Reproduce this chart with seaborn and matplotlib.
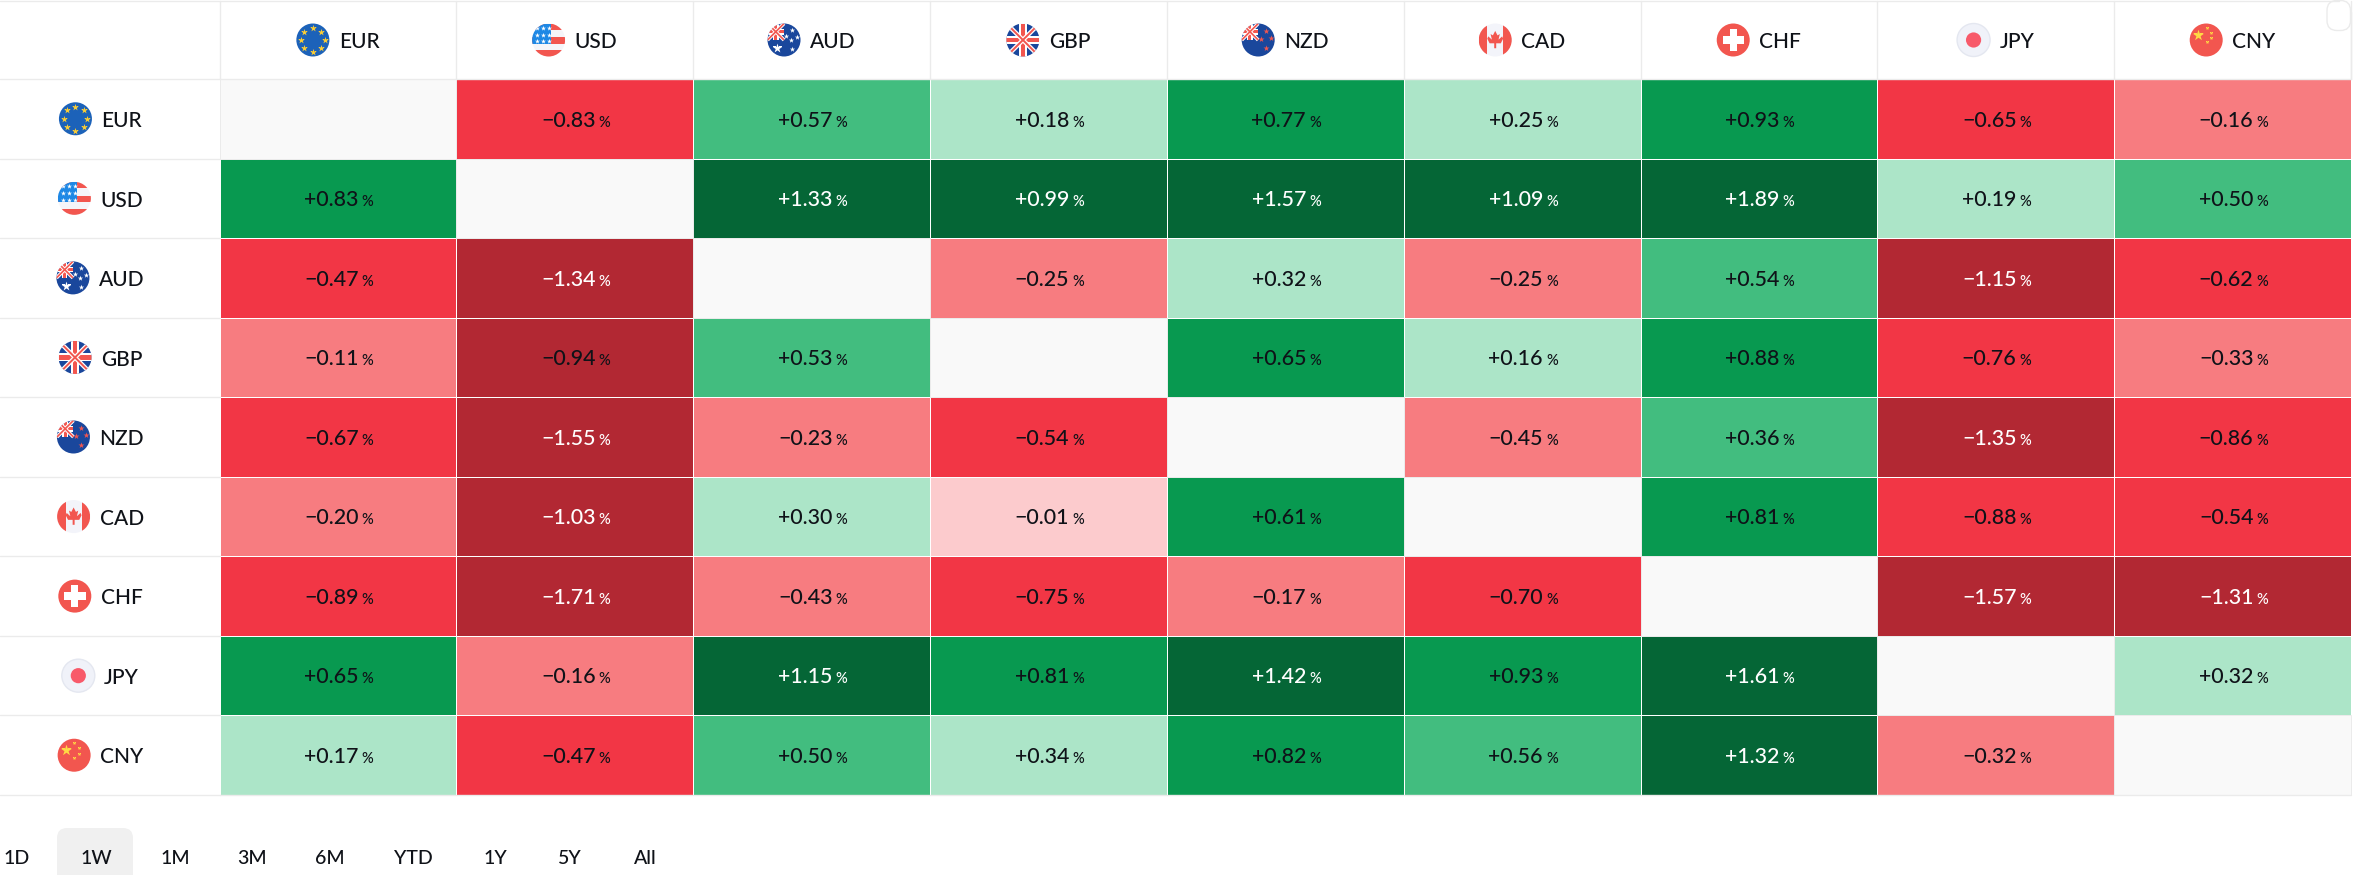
import numpy as np
import pandas as pd
import seaborn as sns
import matplotlib.pyplot as plt
from matplotlib.colors import ListedColormap, BoundaryNorm
from matplotlib.patches import Circle, Rectangle, FancyBboxPatch, Polygon

# Data
currencies = ["EUR", "USD", "AUD", "GBP", "NZD", "CAD", "CHF", "JPY", "CNY"]
eur = [np.nan, -0.83, 0.57, 0.18, 0.77, 0.25, 0.93, -0.65, -0.16]
usd = [0.83, np.nan, 1.33, 0.99, 1.57, 1.09, 1.89, 0.19, 0.50]
aud = [-0.47, -1.34, np.nan, -0.25, 0.32, -0.25, 0.54, -1.15, -0.62]
gbp = [-0.11, -0.94, 0.53, np.nan, 0.65, 0.16, 0.88, -0.76, -0.33]
nzd = [-0.67, -1.55, -0.23, -0.54, np.nan, -0.45, 0.36, -1.35, -0.86]
cad = [-0.20, -1.03, 0.30, -0.01, 0.61, np.nan, 0.81, -0.88, -0.54]
chf = [-0.89, -1.71, -0.43, -0.75, -0.17, -0.70, np.nan, -1.57, -1.31]
jpy = [0.65, -0.16, 1.15, 0.81, 1.42, 0.93, 1.61, np.nan, 0.32]
cny = [0.17, -0.47, 0.50, 0.34, 0.82, 0.56, 1.32, -0.32, np.nan]
periods = ["1D", "1W", "1M", "3M", "6M", "YTD", "1Y", "5Y", "All"]

# Colour bins
bounds = [-2.5, -0.92, -0.46, -0.05, 0, 0.35, 0.59, 0.96, 2.5]
colors = ["#B22833", "#F23645", "#F77C80", "#FCCBCD", "#ACE5C8", "#42BD7F", "#089950", "#056636"]

W, H = 2361, 875
X0, X1, Y0, Y1 = 219.5, 2351, 79, 795
LINE = "#EBEBEB"
RED = "#F2564F"
NAVY = "#1A479C"
INK = "#0F1218"

sns.set_theme(style="white")
plt.rcParams["font.family"] = ["Lato", "DejaVu Sans"]

df = pd.DataFrame([eur, usd, aud, gbp, nzd, cad, chf, jpy, cny], index=currencies, columns=currencies)

fig = plt.figure(figsize=(W / 100, H / 100), dpi=100, facecolor="white")
ax = fig.add_axes([X0 / W, 1 - Y1 / H, (X1 - X0) / W, (Y1 - Y0) / H])
ax.set_facecolor("#F9F9F9")
sns.heatmap(df, mask=df.isna(), cmap=ListedColormap(colors), norm=BoundaryNorm(bounds, len(colors)),
            cbar=False, linewidths=0.55, linecolor="white", xticklabels=False, yticklabels=False, ax=ax)
ax.set_xlabel("")
ax.set_ylabel("")

# Number + small percent sign in each cell
for i, row in enumerate(currencies):
    for j, col in enumerate(currencies):
        v = df.loc[row, col]
        if np.isnan(v):
            continue
        c = "white" if abs(v) > 0.96 else INK
        label = ("+" if v > 0 else "\u2212") + f"{abs(v):.2f}"
        ax.annotate(label, (j + 0.5, i + 0.5), xytext=(15, -5.6), textcoords="offset points",
                    ha="right", va="baseline", fontsize=15.4, fontweight="medium", color=c)
        ax.annotate("%", (j + 0.5, i + 0.5), xytext=(17.2, -5.6), textcoords="offset points",
                    ha="left", va="baseline", fontsize=10.5, fontweight="medium", color=c)

# Overlay in pixels for table frame, flags and period buttons
ov = fig.add_axes([0, 0, 1, 1], facecolor="none")
ov.set_xlim(0, W)
ov.set_ylim(H, 0)
ov.axis("off")


def clipped(artist, clip):
    ov.add_artist(artist)
    artist.set_clip_path(clip)
    return artist


def union_jack(clip, x0, y0, x1, y1, big):
    # diagonals first, the cross on top
    white_lw, red_lw, t, t2 = (3.2, 1.4, 0.12, 0.065) if big else (2.6, 1.2, 0.17, 0.09)
    for a, b, lw, col in [((x0, y0), (x1, y1), white_lw, "white"), ((x0, y1), (x1, y0), white_lw, "white"),
                          ((x0, y0), (x1, y1), red_lw, RED), ((x0, y1), (x1, y0), red_lw, RED)]:
        ln, = ov.plot([a[0], b[0]], [a[1], b[1]], color=col, lw=lw, solid_capstyle="butt")
        ln.set_clip_path(clip)
    mx, my = (x0 + x1) / 2, (y0 + y1) / 2
    h = y1 - y0
    for half, col in [(t * h, "white"), (t2 * h, RED)]:
        clipped(Rectangle((x0, my - half), x1 - x0, 2 * half, facecolor=col, edgecolor="none"), clip)
        clipped(Rectangle((mx - half, y0), 2 * half, h, facecolor=col, edgecolor="none"), clip)


def stars(xs, ys, size, col, clip, marker="*"):
    s = ov.scatter(xs, ys, s=size, c=col, marker=marker, linewidths=0, zorder=5)
    s.set_clip_path(clip)


def draw_flag(code, cx, cy, r=16.5):
    base = {"EUR": "#1C62B9", "USD": "#F5F5F9", "AUD": NAVY, "GBP": "#F5F5F9", "NZD": NAVY,
            "CAD": "#F3F4FA", "CHF": RED, "JPY": "#F0F2F9", "CNY": RED}[code]
    disc = Circle((cx, cy), r, facecolor=base, edgecolor="none")
    ov.add_patch(disc)
    if code == "EUR":
        ang = np.linspace(0, 2 * np.pi, 8, endpoint=False) + np.pi / 2
        stars(cx + 0.72 * r * np.cos(ang), cy + 0.72 * r * np.sin(ang), 26, "#FFCF33", disc)
    elif code == "USD":
        for top, bot in [(-1, -0.62), (-0.16, 0.25), (0.62, 1)]:
            clipped(Rectangle((cx - r, cy + top * r), 2 * r, (bot - top) * r, facecolor=RED, edgecolor="none"), disc)
        clipped(Rectangle((cx - r, cy - r), 1.15 * r, 1.25 * r, facecolor="#1E88E5", edgecolor="none"), disc)
        xs, ys = np.meshgrid(cx + np.array([-0.68, -0.32, 0.02]) * r, cy + np.array([-0.72, -0.32, 0.08]) * r)
        stars(xs.ravel(), ys.ravel(), 14, "white", disc)
    elif code in ("AUD", "NZD"):
        union_jack(disc, cx - r, cy - r, cx, cy, False)
        if code == "AUD":
            stars(cx + np.array([0.5, 0.12, 0.42, 0.78, 0.5]) * r, cy + np.array([-0.62, -0.22, -0.02, -0.2, 0.55]) * r,
                  16, "white", disc)
            stars([cx - 0.42 * r], [cy + 0.5 * r], 50, "white", disc)
        else:
            stars(cx + np.array([0.45, 0.15, 0.78, 0.45]) * r, cy + np.array([-0.55, -0.05, -0.1, 0.48]) * r,
                  20, RED, disc)
    elif code == "GBP":
        clipped(Rectangle((cx - r, cy - r), 2 * r, 2 * r, facecolor=NAVY, edgecolor="none"), disc)
        union_jack(disc, cx - r, cy - r, cx + r, cy + r, True)
    elif code == "CAD":
        clipped(Rectangle((cx - r, cy - r), 0.52 * r, 2 * r, facecolor=RED, edgecolor="none"), disc)
        clipped(Rectangle((cx + 0.48 * r, cy - r), 0.52 * r, 2 * r, facecolor=RED, edgecolor="none"), disc)
        leaf = np.array([(0, -0.55), (0.14, -0.28), (0.28, -0.36), (0.2, -0.02), (0.42, -0.22), (0.48, -0.08),
                         (0.34, 0.2), (0.06, 0.2), (0.06, 0.5), (-0.06, 0.5), (-0.06, 0.2), (-0.34, 0.2),
                         (-0.48, -0.08), (-0.42, -0.22), (-0.2, -0.02), (-0.28, -0.36), (-0.14, -0.28)])
        ov.add_patch(Polygon(np.c_[cx + leaf[:, 0] * r, cy + leaf[:, 1] * r], facecolor=RED, edgecolor="none"))
    elif code == "CHF":
        ov.add_patch(Rectangle((cx - 0.65 * r, cy - 0.22 * r), 1.3 * r, 0.44 * r, facecolor="white", edgecolor="none"))
        ov.add_patch(Rectangle((cx - 0.22 * r, cy - 0.65 * r), 0.44 * r, 1.3 * r, facecolor="white", edgecolor="none"))
    elif code == "JPY":
        disc.set_edgecolor("#E4E7F0")
        ov.add_patch(Circle((cx, cy), 0.46 * r, facecolor="#F85A6A", edgecolor="none"))
    elif code == "CNY":
        stars([cx - 0.48 * r], [cy - 0.32 * r], 70, "#FFDA44", disc)
        stars(cx + np.array([0.02, 0.28, 0.28, 0.02]) * r, cy + np.array([-0.72, -0.42, -0.1, 0.15]) * r, 7, "#FFDA44", disc)


renderer = fig.canvas.get_renderer()


def flag_label(code, center, cy):
    # flag + gap + code, the whole group centred on the given x
    t = ov.text(0, cy + 8.2, code, fontsize=15, fontweight="medium", color=INK, ha="left", va="baseline")
    w = t.get_window_extent(renderer).width
    start = center - (33 + 9.5 + w) / 2
    draw_flag(code, start + 16.5, cy)
    t.set_x(start + 42.5)


cell_w = (X1 - X0) / 9
cell_h = (Y1 - Y0) / 9
for k, code in enumerate(currencies):
    flag_label(code, X0 + (k + 0.5) * cell_w, 40)
    flag_label(code, 100.5, Y0 + (k + 0.5) * cell_h)

# table frame
ov.plot([0, X1 - 12], [0.5, 0.5], color=LINE, lw=1)
ov.plot([X1 - 0.5, X1 - 0.5], [12, Y0], color=LINE, lw=1)
ov.add_patch(FancyBboxPatch((X1 - 24, 0.5), 23.5, 30, boxstyle="round,pad=0,rounding_size=10",
                            facecolor="none", edgecolor=LINE, lw=1, clip_on=True,
                            clip_path=Rectangle((X1 - 12, 0), 12, 12, transform=ov.transData)))
for k in range(10):
    y = Y0 + k * cell_h
    ov.plot([0, X0], [y, y], color=LINE, lw=1)
    x = X0 + k * cell_w
    ov.plot([x, x], [1, Y0], color=LINE, lw=1)
ov.plot([X0, X1], [Y0, Y0], color=LINE, lw=1)
ov.plot([X0, X1], [Y1, Y1], color=LINE, lw=1)
for k in range(9):
    ov.add_patch(Rectangle((X0 + k * cell_w, Y0 + k * cell_h), cell_w, cell_h, facecolor="none", edgecolor=LINE, lw=0.7))

# period buttons
ov.add_patch(FancyBboxPatch((57, 828), 76, 80, boxstyle="round,pad=0,rounding_size=10",
                            facecolor="#F0F0F0", edgecolor="none"))
period_x = [17, 96, 175, 252.5, 330, 413, 495, 570, 645]
for p, x in zip(periods, period_x):
    ov.text(x, 864, p, fontsize=14, fontweight="medium", color=INK, ha="center", va="baseline")

fig.savefig("out.png", dpi=100)
